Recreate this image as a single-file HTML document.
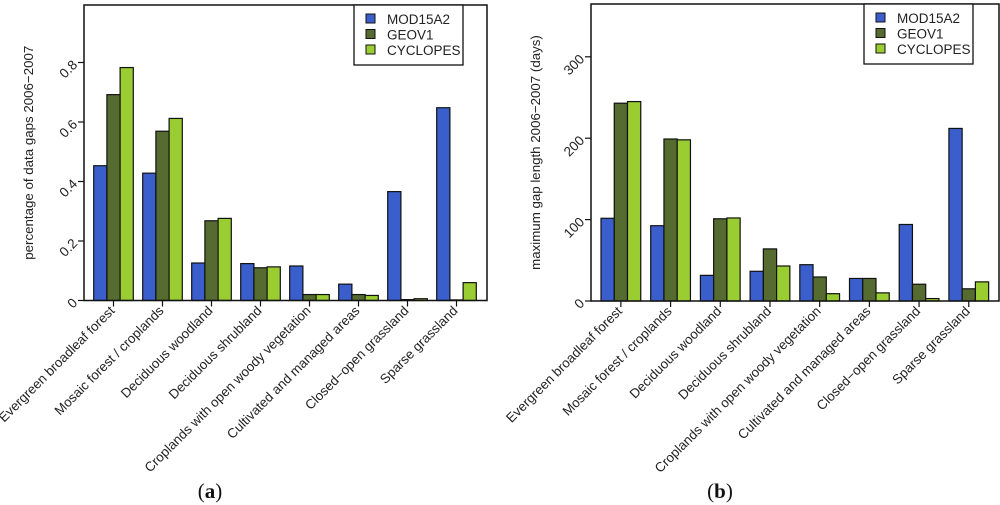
<!DOCTYPE html>
<html><head><meta charset="utf-8"><style>
html,body{margin:0;padding:0;background:#fff;}
svg{display:block;font-family:"Liberation Sans",Arial,sans-serif;}
</style></head><body>
<svg id="fig" width="1000" height="505" viewBox="0 0 1000 505"></svg>
<script>
const categories = ["Evergreen broadleaf forest","Mosaic forest / croplands","Deciduous woodland","Deciduous shrubland","Croplands with open woody vegetation","Cultivated and managed areas","Closed\u2212open grassland","Sparse grassland"];
const seriesNames = ["MOD15A2","GEOV1","CYCLOPES"];
const gapsMOD = [0.453,0.428,0.126,0.124,0.116,0.055,0.366,0.648];
const gapsGEO = [0.692,0.569,0.268,0.110,0.020,0.020,0.003,0.002];
const gapsCYC = [0.783,0.612,0.276,0.113,0.020,0.017,0.006,0.060];
const lenMOD = [101.6,92.5,31.5,36.5,44.6,27.7,94,212];
const lenGEO = [243,199,101,64,29.5,27.7,20.6,15];
const lenCYC = [245,198,102,43,9,10,3,23.5];
const ticksA = [0,0.2,0.4,0.6,0.8];
const tickLabelsA = ["0","0.2","0.4","0.6","0.8"];
const ticksB = [0,100,200,300];
const tickLabelsB = ["0","100","200","300"];

const colors = ["#3a5fcd","#556b2f","#9acd32"];
const NS = "http://www.w3.org/2000/svg";
const svg = document.getElementById('fig');
function mk(tag, attrs, parent){const e=document.createElementNS(NS,tag);for(const k in attrs)e.setAttribute(k,attrs[k]);(parent||svg).appendChild(e);return e;}

function drawChart(cfg){
  const g = mk('g',{});
  
  
  const y = v => cfg.y0 - (v - 0) * cfg.pxPerUnit;
  const bw = cfg.barW, gs = cfg.groupStep;
  cfg.series.forEach((vals, s) => {
    vals.forEach((v, i) => {
      const x = cfg.firstBar + i*gs + s*bw;
      const r = mk('rect',{x:x,y:y(v),width:bw,height:Math.max(0,cfg.y0-y(v)),fill:colors[s],stroke:'#111','stroke-width':1.2},g);
      
      
    });
  });
  const box = mk('rect',{x:cfg.left,y:cfg.top,width:cfg.right-cfg.left,height:cfg.y0-cfg.top,fill:'none',stroke:'#111','stroke-width':1.5},g);
  
  
  cfg.ticks.forEach((t, i) => {
    const ty = y(t);
    mk('line',{x1:cfg.left-6,x2:cfg.left,y1:ty,y2:ty,stroke:'#111','stroke-width':1.2},g);
    const tx = mk('text',{x:cfg.left-9,y:ty+4.5,'font-size':13.5,'text-anchor':'end',fill:'#222',transform:`rotate(-45 ${cfg.left-9} ${ty})`},g);
    tx.textContent = cfg.tickLabels[i];
    
    
  });
  categories.forEach((c, i) => {
    const cx = cfg.firstBar + i*gs + 1.5*bw;
    mk('line',{x1:cx,x2:cx,y1:cfg.y0,y2:cfg.y0+6,stroke:'#111','stroke-width':1.2},g);
    const t = mk('text',{x:cx+2,y:cfg.y0+11,'font-size':13.3,'text-anchor':'end',fill:'#222',transform:`rotate(-45 ${cx+2} ${cfg.y0+11})`},g);
    t.textContent = c;
    
    
  });
  const yt = mk('text',{x:cfg.titleX,y:(cfg.top+cfg.y0)/2,'font-size':13.3,'text-anchor':'middle',fill:'#222',transform:`rotate(-90 ${cfg.titleX} ${(cfg.top+cfg.y0)/2})`},g);
  yt.textContent = cfg.yTitle;
  
  
  const lg = mk('g',{},g);
  
  
  mk('rect',{x:cfg.legX,y:cfg.legY,width:109,height:60,fill:'#fff',stroke:'#111','stroke-width':1.3},lg);
  seriesNames.forEach((n, s) => {
    const ly = cfg.legY + 14 + s*15.5;
    mk('rect',{x:cfg.legX+12,y:ly-5,width:9,height:9,fill:colors[s],stroke:'#111','stroke-width':1},lg);
    const t = mk('text',{x:cfg.legX+33,y:ly+5,'font-size':13.5,fill:'#222'},lg);
    t.textContent = n;
    
    
  });
  const cap = mk('text',{x:cfg.capX,y:498,'font-size':21,'font-family':'"Liberation Serif",serif','text-anchor':'middle',fill:'#111'},g);
  cap.innerHTML = '(<tspan font-weight="bold">' + cfg.cap + '</tspan>)';
  
  
}

drawChart({name:'chart-a',left:84,right:487,top:5,y0:300.5,pxPerUnit:297.5,firstBar:93.7,barW:13.2,groupStep:49,
  series:[gapsMOD,gapsGEO,gapsCYC],ticks:ticksA,tickLabels:tickLabelsA,titleX:33,
  yTitle:'percentage of data gaps 2006\u22122007',legX:354,legY:5,capX:210,cap:'a'});
drawChart({name:'chart-b',left:591,right:999,top:4,y0:301,pxPerUnit:0.814,firstBar:601,barW:13.25,groupStep:49.7,
  series:[lenMOD,lenGEO,lenCYC],ticks:ticksB,tickLabels:tickLabelsB,titleX:540,
  yTitle:'maximum gap length 2006\u22122007 (days)',legX:864,legY:4,capX:720,cap:'b'});
</script>
</body></html>
